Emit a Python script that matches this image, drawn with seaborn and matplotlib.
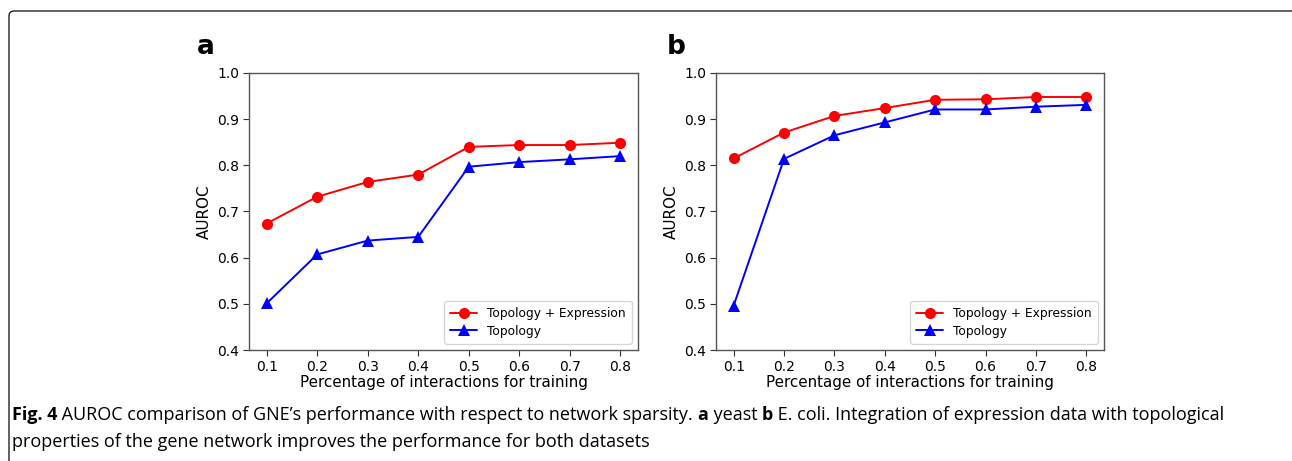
import matplotlib
matplotlib.use("Agg")
import matplotlib.pyplot as plt
import seaborn as sns
import pandas as pd
from matplotlib.patches import FancyBboxPatch
from matplotlib import font_manager

sns.set_style("ticks")
plt.rcParams['font.family'] = ['DejaVu Sans']
plt.rcParams['font.sans-serif'] = ['DejaVu Sans']
plt.rcParams['text.color'] = 'black'
plt.rcParams['axes.labelcolor'] = 'black'
plt.rcParams['xtick.color'] = 'black'
plt.rcParams['ytick.color'] = 'black'
plt.rcParams['xtick.labelcolor'] = 'black'
plt.rcParams['ytick.labelcolor'] = 'black'

x_vals = [0.1, 0.2, 0.3, 0.4, 0.5, 0.6, 0.7, 0.8]
x_labels = ["0.1", "0.2", "0.3", "0.4", "0.5", "0.6", "0.7", "0.8"]
yeast_topo_expr = [0.674, 0.732, 0.764, 0.780, 0.840, 0.844, 0.844, 0.849]
yeast_topo = [0.501, 0.607, 0.637, 0.645, 0.797, 0.807, 0.813, 0.820]
ecoli_topo_expr = [0.815, 0.871, 0.907, 0.924, 0.942, 0.943, 0.948, 0.948]
ecoli_topo = [0.496, 0.814, 0.865, 0.893, 0.921, 0.921, 0.927, 0.931]
series_names = ["Topology + Expression", "Topology"]
y_ticks = [0.4, 0.5, 0.6, 0.7, 0.8, 0.9, 1.0]
panel_letters = ["a", "b"]

available = {f.name for f in font_manager.fontManager.ttflist}
cap_font = "Liberation Sans Narrow" if "Liberation Sans Narrow" in available else "Open Sans"

def make_df(a, b):
    rows = []
    for xv, v in zip(x_vals, a):
        rows.append({"x": xv, "AUROC": v, "series": series_names[0]})
    for xv, v in zip(x_vals, b):
        rows.append({"x": xv, "AUROC": v, "series": series_names[1]})
    return pd.DataFrame(rows)

W, H = 1292, 461
fig = plt.figure(figsize=(W / 100, H / 100), dpi=100)

# rounded border box
box = FancyBboxPatch((9 / W, -0.2), 1.2, (461 - 11) / H + 0.2,
                     boxstyle="round,pad=0,rounding_size=0.004",
                     transform=fig.transFigure, fill=False,
                     edgecolor="#222222", linewidth=1.0, mutation_aspect=W / H)
fig.patches.append(box)

axes_px = [(249, 73, 638, 350), (716, 73, 1104, 350)]
letter_x = [197, 667]
datasets = [(yeast_topo_expr, yeast_topo), (ecoli_topo_expr, ecoli_topo)]
palette = {series_names[0]: "#ff0000", series_names[1]: "#0000ff"}
markers = {series_names[0]: "o", series_names[1]: "^"}

for (l, t, r, b), (d1, d2), letter, lx in zip(axes_px, datasets, panel_letters, letter_x):
    ax = fig.add_axes([l / W, 1 - b / H, (r - l) / W, (b - t) / H])
    df = make_df(d1, d2)
    sns.lineplot(data=df, x="x", y="AUROC", hue="series", style="series",
                 palette=palette, markers=markers, dashes=False,
                 markersize=8, markeredgewidth=0, linewidth=1.4, ax=ax)
    ax.set_ylim(0.4, 1.0)
    ax.set_xlim(0.065, 0.835)
    ax.set_yticks(y_ticks)
    ax.set_yticklabels([f"{v:.1f}" for v in y_ticks])
    ax.set_xticks(x_vals)
    ax.set_xticklabels(x_labels)
    ax.tick_params(labelsize=10, length=4, width=0.8, color="#333333",
                   labelcolor="black", pad=3)
    for lab in ax.get_xticklabels() + ax.get_yticklabels():
        lab.set_family("DejaVu Sans")
    for s in ax.spines.values():
        s.set_color("#555555")
        s.set_linewidth(1.0)
    ax.set_xlabel("Percentage of interactions for training", fontsize=10.9,
                  labelpad=1, family="DejaVu Sans", color="black")
    ax.set_ylabel("AUROC", fontsize=10.9, labelpad=4, family="DejaVu Sans", color="black")
    leg = ax.legend(loc="lower right", prop={"family": "DejaVu Sans", "size": 8.8},
                    frameon=True, borderpad=0.5, handlelength=2.2, labelspacing=0.4)
    leg.get_frame().set_edgecolor("#cccccc")
    for txt in leg.get_texts():
        txt.set_color("black")
    fig.text(lx / W, 1 - 54 / H, letter, fontsize=19, fontweight="bold",
             va="baseline", ha="left", family="DejaVu Sans", color="black")

# caption with mixed bold text
fig.canvas.draw()
renderer = fig.canvas.get_renderer()

def place(pieces, x0, y, size):
    x = x0
    made = []
    for txt, bold in pieces:
        t = fig.text(x / W, 1 - y / H, txt, fontsize=size,
                     fontweight="bold" if bold else "normal",
                     family=cap_font, va="baseline", ha="left", color="black")
        made.append(t)
        x += t.get_window_extent(renderer).width
    return x, made

line1 = [("Fig. 4", True),
         (" AUROC comparison of GNE\u2019s performance with respect to network sparsity. ", False),
         ("a", True), (" yeast ", False), ("b", True),
         (" E. coli. Integration of expression data with topological", False)]
line2 = [("properties of the gene network improves the performance for both datasets", False)]

size = 11.0
x_end, made = place(line1, 12, 420, size)
for t in made:
    t.remove()
size = size * (1233 - 12) / (x_end - 12)
place(line1, 12, 420, size)
place(line2, 12, 447, size)

fig.savefig("out.png", dpi=100)
